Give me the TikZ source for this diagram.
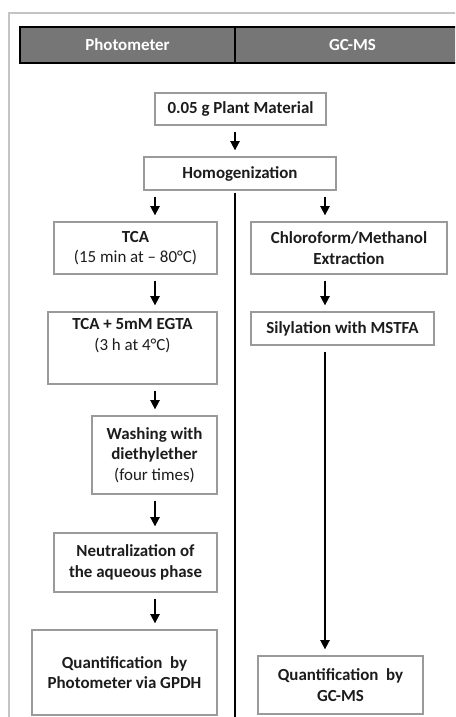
\documentclass[tikz,border=0pt]{standalone}
\usepackage{fontspec}
\setmainfont{Carlito}
\usetikzlibrary{arrows.meta}
\definecolor{hdrfill}{HTML}{767676}
\definecolor{boxline}{HTML}{9A9A9A}
\definecolor{framegray}{HTML}{C4C4C4}
\definecolor{ink}{HTML}{1C1C1C}
\newcommand{\cond}[1]{{\mdseries #1}}
\tikzset{
  bx/.style={draw=boxline, line width=1.1pt, fill=white, align=center, text=ink, inner sep=2pt,
    font=\fontsize{12.7}{15.4}\selectfont\bfseries},
  hdr/.style={draw=black, line width=2.2pt, fill=hdrfill, text=white, minimum height=27pt,
    font=\fontsize{12.7}{15.4}\selectfont\bfseries},
  arr/.style={-{Triangle[length=6.8pt, width=7pt]}, line width=0.8pt, shorten <=4.5pt, shorten >=4.5pt},
  sep/.style={line width=0.9pt, shorten <=1.5pt},
}

\begin{document}
\begin{tikzpicture}[x=0.75pt, y=-0.75pt]
  \clip (0,0) rectangle (455,717);
  \fill[white] (0,0) rectangle (455,717);
  \draw[framegray, line width=1.1pt] (9,730) -- (9,13) -- (470,13);

  % column headers
  \node[hdr, minimum width=161.25pt] (hphoto) at (127.5,45) {Photometer};
  \node[hdr, minimum width=176.25pt] (hgcms) at (352.5,45) {GC-MS};

  % lanes for the arrows
  \coordinate (divtop) at (235,192);
  \coordinate (divbot) at (235,725);
  \coordinate (lanel) at (155,0);
  \coordinate (laner) at (325,0);

  \node[bx, minimum width=128.25pt, minimum height=24pt] (plant) at (240.5,109) {0.05 g Plant Material};
  \node[bx, minimum width=144pt, minimum height=24.75pt] (homog) at (240,173.5) {Homogenization};

  % photometer side
  \node[bx, minimum width=122.25pt, minimum height=39pt] (tca) at (135.5,248) {TCA\\\cond{(15 min at -- 80°C)}};
  \node[bx, minimum width=126.75pt, minimum height=54pt] (egta) at (132.5,348) {TCA + 5mM EGTA\\\cond{(3 h at 4°C)}\\\strut};
  \node[bx, minimum width=93.75pt, minimum height=58.5pt] (wash) at (154.5,455) {Washing with\\diethylether\\\cond{(four times)}};
  \node[bx, minimum width=122.25pt, minimum height=44.25pt] (neut) at (135.5,562.5) {Neutralization of\\the aqueous phase};
  \node[bx, minimum width=138.75pt, minimum height=63.75pt] (quantp) at (124.5,672.5) {Quantification~ by\\Photometer via GPDH};

  % GC-MS side
  \node[bx, minimum width=147pt, minimum height=39pt] (chloro) at (349,248) {Chloroform/Methanol\\Extraction};
  \node[bx, minimum width=137.25pt, minimum height=24.75pt] (silyl) at (342.5,328.5) {Silylation with MSTFA};
  \node[bx, minimum width=123.75pt, minimum height=43.5pt] (quantg) at (340.5,685) {Quantification~ by\\GC-MS};

  \draw[sep] (homog.south -| divtop) -- (divbot);

  \draw[arr] (plant.south -| divtop) -- (homog.north -| divtop);
  \draw[arr] (homog.south -| lanel) -- (tca.north -| lanel);
  \draw[arr] (tca.south -| lanel) -- (egta.north -| lanel);
  \draw[arr] (egta.south -| lanel) -- (wash.north -| lanel);
  \draw[arr] (wash.south -| lanel) -- (neut.north -| lanel);
  \draw[arr] (neut.south -| lanel) -- (quantp.north -| lanel);
  \draw[arr] (homog.south -| laner) -- (chloro.north -| laner);
  \draw[arr] (chloro.south -| laner) -- (silyl.north -| laner);
  \draw[arr] (silyl.south -| laner) -- (quantg.north -| laner);
\end{tikzpicture}
\end{document}
